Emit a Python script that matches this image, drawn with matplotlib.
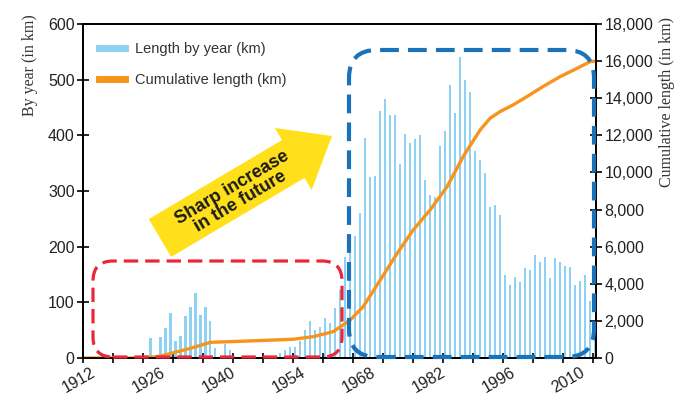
import matplotlib
matplotlib.use("Agg")
import matplotlib.pyplot as plt
import numpy as np
from matplotlib.lines import Line2D
from matplotlib.patches import FancyBboxPatch, Polygon
from matplotlib.ticker import FuncFormatter
from matplotlib.transforms import IdentityTransform

# length built per year (km), 1924-2013
years = np.arange(1924, 2014)
length_by_year = [
    36, 0, 38, 53, 81, 30, 40, 75, 92, 116,          # 1924-1933
    77, 92, 66, 18, 0, 25, 14, 0, 0, 0,              # 1934-1943
    0, 0, 0, 0, 0, 0, 9, 14, 20, 20,                 # 1944-1953
    30, 50, 66, 50, 56, 71, 62, 89, 122, 181,        # 1954-1963
    200, 220, 260, 395, 326, 327, 444, 466, 437, 437,  # 1964-1973
    348, 402, 387, 393, 400, 320, 293, 290, 381, 407,  # 1974-1983
    490, 441, 540, 499, 477, 371, 356, 332, 272, 275,  # 1984-1993
    257, 149, 131, 146, 137, 161, 158, 185, 172, 182,  # 1994-2003
    143, 179, 172, 165, 164, 131, 138, 150, 103, 43,   # 2004-2013
]

# cumulative length (km)
cum_years = [1910.6, 1922.6, 1926, 1932, 1936, 1944, 1952.6, 1956.6, 1960.6,
             1964, 1966.6, 1970, 1973.4, 1976.6, 1980, 1983.4, 1986.6, 1990,
             1992, 1994, 1996.6, 1999.4, 2002.6, 2006, 2009.4, 2012, 2013.2]
cum_length = [0, 0, 100, 520, 845, 920, 1010, 1150, 1420,
              2050, 2770, 4200, 5640, 6900, 7980, 9240, 10850, 12290,
              12920, 13280, 13640, 14090, 14630, 15160, 15610, 15970, 16000]

label_years = [1912, 1926, 1940, 1954, 1968, 1982, 1996, 2010]

W, H = 678, 397
sans = ['Liberation Sans', 'DejaVu Sans']
serif = ['Liberation Serif', 'DejaVu Serif']
bar_color = '#8fd1f2'
line_color = '#f7941d'

fig = plt.figure(figsize=(W / 100, H / 100), dpi=100)
ax = fig.add_axes([83 / W, 1 - 358 / H, (596 - 83) / W, (358 - 24) / H])
ax2 = ax.twinx()

ax.bar(years, length_by_year, width=0.45, color=bar_color, zorder=2)
ax2.plot(cum_years, cum_length, color=line_color, lw=2.4, solid_capstyle='butt')

ax.set_xlim(1910.6, 2013.2)
ax.set_ylim(0, 600)
ax2.set_ylim(0, 18000)

ax.set_yticks(np.arange(0, 601, 100))
ax2.set_yticks(np.arange(0, 18001, 2000))
ax2.yaxis.set_major_formatter(FuncFormatter(lambda v, p: f"{int(v):,}"))

ax.set_xticks(label_years)
ax.set_xticks(np.arange(1910.5, 2014, 6), minor=True)
ax.tick_params(axis='x', which='major', length=0, pad=5)
ax.tick_params(axis='x', which='minor', direction='inout', length=7, width=1.2)
ax.tick_params(axis='y', direction='inout', length=8, width=1.2, pad=2)
ax2.tick_params(axis='y', direction='inout', length=8, width=1.2, pad=2)

for lab in ax.get_xticklabels():
    lab.set_rotation(30)
    lab.set_ha('right')
    lab.set_va('top')
    lab.set_rotation_mode('anchor')
for lab in ax.get_xticklabels() + ax.get_yticklabels() + ax2.get_yticklabels():
    lab.set_family(sans)
    lab.set_fontsize(11.5)
    lab.set_color('#222222')

for a in (ax, ax2):
    for s in a.spines.values():
        s.set_linewidth(1.3)

fig.text(30 / W, 1 - 65 / H, 'By year (in km)', rotation=90, ha='center',
         va='center', family=serif, fontsize=11.5, color='#333333')
fig.text(667 / W, 1 - 102 / H, 'Cumulative length (in km)', rotation=90,
         ha='center', va='center', family=serif, fontsize=11.5, color='#333333')

handles = [Line2D([], [], color=bar_color, lw=5),
           Line2D([], [], color=line_color, lw=5)]
leg = ax.legend(handles, ['Length by year (km)', 'Cumulative length (km)'],
                loc='upper left', bbox_to_anchor=(0.005, 0.985), frameon=False,
                handlelength=1.8, handletextpad=0.7, labelspacing=1.15,
                prop={'family': sans, 'size': 10.5})
for t in leg.get_texts():
    t.set_color('#333333')

# annotation shapes, in pixel coordinates of the image
def px(x, y):
    return (x, H - y)

red_box = FancyBboxPatch(px(93, 357), 249, 96,
                         boxstyle='round,pad=0,rounding_size=20',
                         fill=False, edgecolor='#e8283a', lw=2.3,
                         linestyle=(0, (4.5, 2.2)), transform=IdentityTransform(),
                         zorder=10)
blue_box = FancyBboxPatch(px(349, 357), 245, 307,
                          boxstyle='round,pad=0,rounding_size=28',
                          fill=False, edgecolor='#1a72bb', lw=3,
                          linestyle=(0, (4.5, 2.2)), transform=IdentityTransform(),
                          zorder=10)
fig.patches.extend([red_box, blue_box])

tail = np.array([160.0, 238.0])
tip = np.array([332.0, 136.0])
u = (tip - tail) / np.hypot(*(tip - tail))
n = np.array([-u[1], u[0]])
head = tip - u * 45
pts = [tail + n * 22, head + n * 22, head + n * 36, tip,
       head - n * 36, head - n * 22, tail - n * 22]
arrow = Polygon([px(*p) for p in pts], closed=True, facecolor='#ffe01b',
                edgecolor='none', transform=IdentityTransform(), zorder=9)
fig.patches.append(arrow)
angle = np.degrees(np.arctan2(-(tip - tail)[1], (tip - tail)[0]))
fig.text(236 / W, 1 - 195 / H, 'Sharp increase\nin the future', rotation=angle,
         rotation_mode='anchor', ha='center', va='center', family=sans,
         fontweight='bold', fontsize=13, color='#1a1a1a', linespacing=0.95,
         zorder=11)

fig.savefig('out.png', dpi=100)
